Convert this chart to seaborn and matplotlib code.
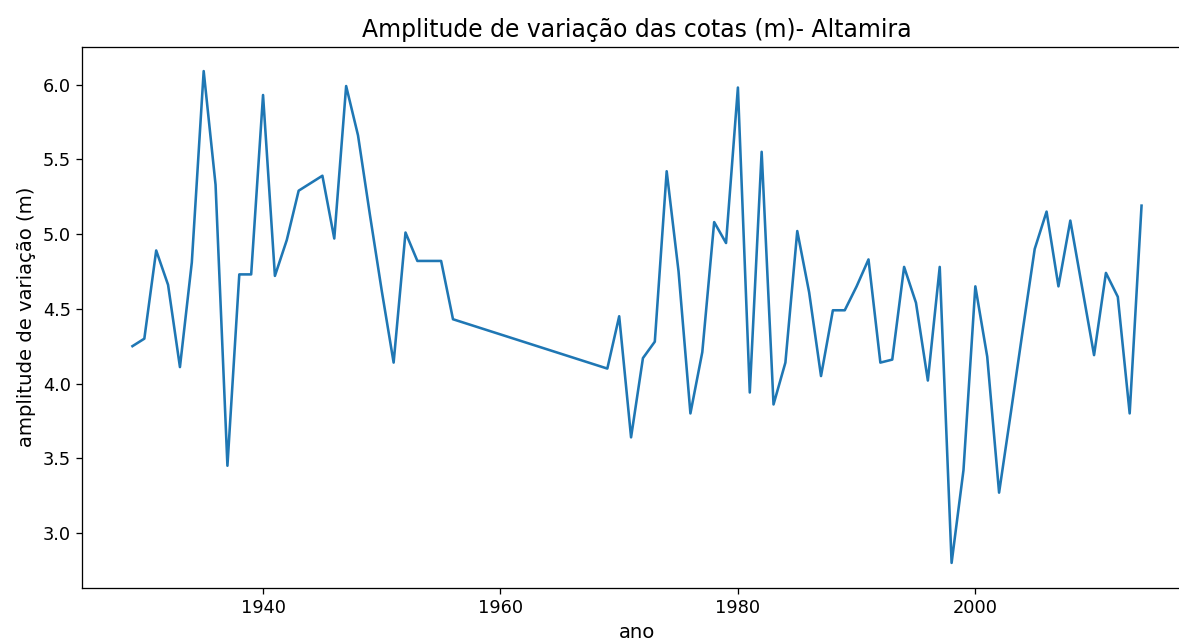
import matplotlib
matplotlib.use("Agg")
import matplotlib.pyplot as plt
import seaborn as sns
import pandas as pd

anos = [1929, 1930, 1931, 1932, 1933, 1934, 1935, 1936, 1937, 1938, 1939,
        1940, 1941, 1942, 1943, 1944, 1945, 1946, 1947, 1948, 1949, 1950,
        1951, 1952, 1953, 1954, 1955, 1956,
        1969, 1970, 1971, 1972, 1973, 1974, 1975, 1976, 1977, 1978, 1979,
        1980, 1981, 1982, 1983, 1984, 1985, 1986, 1987, 1988, 1989, 1990,
        1991, 1992, 1993, 1994, 1995, 1996, 1997, 1998, 1999, 2000, 2001,
        2002, 2003, 2004, 2005, 2006, 2007, 2008, 2009, 2010, 2011, 2012,
        2013, 2014]
amplitude = [4.25, 4.30, 4.89, 4.66, 4.11, 4.81, 6.09, 5.33, 3.45, 4.73, 4.73,
             5.93, 4.72, 4.96, 5.29, 5.34, 5.39, 4.97, 5.99, 5.66, 5.13, 4.62,
             4.14, 5.01, 4.82, 4.82, 4.82, 4.43,
             4.10, 4.45, 3.64, 4.17, 4.28, 5.42, 4.75, 3.80, 4.21, 5.08, 4.94,
             5.98, 3.94, 5.55, 3.86, 4.14, 5.02, 4.61, 4.05, 4.49, 4.49, 4.65,
             4.83, 4.14, 4.16, 4.78, 4.54, 4.02, 4.78, 2.80, 3.42, 4.65, 4.18,
             3.27, 3.81, 4.36, 4.90, 5.15, 4.65, 5.09, 4.64, 4.19, 4.74, 4.58,
             3.80, 5.19]

titulo = "Amplitude de variação das cotas (m)- Altamira"
xlabel = "ano"
ylabel = "amplitude de variação (m)"

df = pd.DataFrame({"ano": anos, "amplitude": amplitude})

DPI = 116
fig = plt.figure(figsize=(1179 / DPI, 644 / DPI), dpi=DPI)
W, H = 1179, 644
ax = fig.add_axes([82 / W, (H - 587.5) / H, (1192 - 82) / W, (587.5 - 46.5) / H])

sns.lineplot(data=df, x="ano", y="amplitude", ax=ax, color="#1f77b4", linewidth=1.6)

ax.set_title(titulo, fontsize=14.6)
ax.set_xlabel(xlabel, fontsize=12.2)
ax.set_ylabel(ylabel, fontsize=12.2)
ax.set_xticks([1940, 1960, 1980, 2000])
ax.set_yticks([3.0, 3.5, 4.0, 4.5, 5.0, 5.5, 6.0])
ax.tick_params(labelsize=11)

fig.savefig("out.png", dpi=DPI)
